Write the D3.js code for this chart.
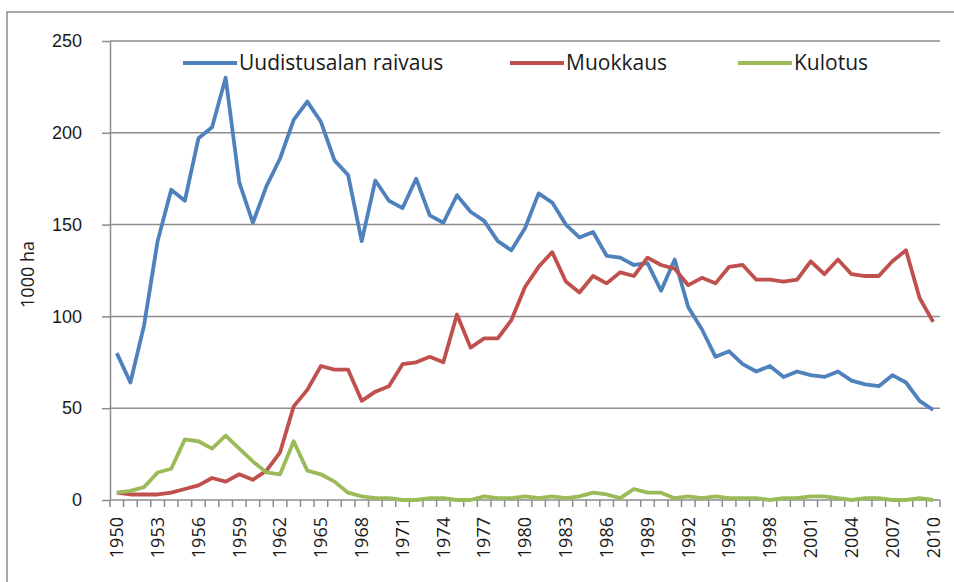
<!DOCTYPE html>
<html>
<head>
<meta charset="utf-8">
<style>
  body { margin: 0; background: #fff; font-family: 'Open Sans', Arial, sans-serif; }
  .grid line { stroke: #8c8c8c; stroke-width: 1.5; }
  .axis path, .axis line { stroke: #8c8c8c; stroke-width: 1.5; }
  .axis text { fill: #1a1a1a; font-size: 18px; }
  .xlab { font-size: 19px; }
  .series { fill: none; stroke-width: 3.8; stroke-linejoin: round; }
</style>
</head>
<body>
<script src="https://cdn.jsdelivr.net/npm/d3@7"></script>
<script>

var years = d3.range(1950, 2011);
var yTicks = [0, 50, 100, 150, 200, 250];

var raivaus = [80,64,95,141,169,163,197,203,230,173,
  151,171,186,207,217,206,185,177,141,174,
  163,159,175,155,151,166,157,152,141,136,
  148,167,162,150,143,146,133,132,128,129,
  114,131,105,93,78,81,74,70,73,67,
  70,68,67,70,65,63,62,68,64,54,
  49];
var muokkaus = [4,3,3,3,4,6,8,12,10,14,
  11,16,26,51,60,73,71,71,54,59,
  62,74,75,78,75,101,83,88,88,98,
  116,127,135,119,113,122,118,124,122,132,
  128,126,117,121,118,127,128,120,120,119,
  120,130,123,131,123,122,122,130,136,110,
  97];
var kulotus = [4,5,7,15,17,33,32,28,35,28,
  21,15,14,32,16,14,10,4,2,1,
  1,0,0,1,1,0,0,2,1,1,
  2,1,2,1,2,4,3,1,6,4,
  4,1,2,1,2,1,1,1,0,1,
  1,2,2,1,0,1,1,0,0,1,
  0];

var series = [
  { name: 'Uudistusalan raivaus', values: raivaus, color: '#4f81bd', lx: 183 },
  { name: 'Muokkaus', values: muokkaus, color: '#c0504d', lx: 510 },
  { name: 'Kulotus', values: kulotus, color: '#9bbb59', lx: 738 }
];

var width = 954, height = 582;
var plotL = 110, plotR = 940, plotT = 41, plotB = 500;

var svg = d3.select('body').append('svg')
  .attr('width', width)
  .attr('height', height);

// chart frame
svg.append('rect')
  .attr('x', 7).attr('y', 12)
  .attr('width', 970).attr('height', 600)
  .attr('fill', 'none').attr('stroke', '#8c8c8c').attr('stroke-width', 1.5);

var x = d3.scaleBand().domain(years).range([plotL, plotR]);
var y = d3.scaleLinear().domain([0, 250]).range([plotB, plotT]);

svg.append('g').attr('class', 'grid')
  .selectAll('line')
  .data(yTicks.filter(function (d) { return d > 0; }))
  .enter().append('line')
  .attr('x1', plotL).attr('x2', plotR)
  .attr('y1', function (d) { return y(d); })
  .attr('y2', function (d) { return y(d); });

svg.append('g').attr('class', 'axis')
  .attr('transform', 'translate(' + plotL + ',0)')
  .call(d3.axisLeft(y).tickValues(yTicks).tickSize(8).tickPadding(20).tickSizeOuter(0));

// x axis: ticks on category boundaries, labels every 3 years
var xg = svg.append('g').attr('class', 'axis');
xg.append('line')
  .attr('x1', plotL).attr('x2', plotR)
  .attr('y1', plotB).attr('y2', plotB);
xg.selectAll('line.tk')
  .data(years.concat([2011]))
  .enter().append('line')
  .attr('class', 'tk')
  .attr('x1', function (d) { return d === 2011 ? plotR : x(d); })
  .attr('x2', function (d) { return d === 2011 ? plotR : x(d); })
  .attr('y1', plotB).attr('y2', plotB + 7);
xg.selectAll('text')
  .data(years.filter(function (d) { return (d - 1950) % 3 === 0; }))
  .enter().append('text')
  .attr('class', 'xlab')
  .attr('text-anchor', 'end')
  .attr('dy', '0.35em')
  .attr('transform', function (d) {
    return 'translate(' + (x(d) + x.bandwidth() / 2) + ',' + (plotB + 17) + ') rotate(-90)';
  })
  .text(function (d) { return d; });

svg.append('text')
  .attr('transform', 'translate(34,' + ((plotT + plotB) / 2 + 4) + ') rotate(-90)')
  .attr('text-anchor', 'middle')
  .attr('font-size', 18)
  .attr('fill', '#1a1a1a')
  .text('1000 ha');

var line = d3.line()
  .x(function (d, i) { return x(years[i]) + x.bandwidth() / 2; })
  .y(function (d) { return y(d); });

series.forEach(function (s) {
  svg.append('path')
    .attr('class', 'series')
    .attr('stroke', s.color)
    .attr('d', line(s.values));
});

// legend
var legend = svg.append('g');
series.forEach(function (s) {
  legend.append('line')
    .attr('x1', s.lx).attr('x2', s.lx + 54)
    .attr('y1', 63).attr('y2', 63)
    .attr('stroke', s.color).attr('stroke-width', 3.8);
  legend.append('text')
    .attr('x', s.lx + 56).attr('y', 63)
    .attr('dy', '0.35em')
    .attr('font-size', 21)
    .attr('fill', '#1a1a1a')
    .text(s.name);
});

</script>
</body>
</html>
